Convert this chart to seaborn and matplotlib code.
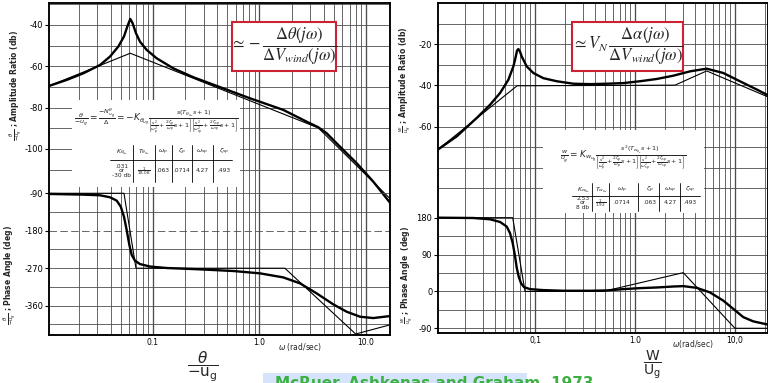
import numpy as np
import matplotlib
matplotlib.use("Agg")
import matplotlib.pyplot as plt
from matplotlib.patches import Rectangle
from matplotlib.lines import Line2D
from matplotlib.ticker import NullLocator
import seaborn as sns

sns.set_theme(style="white")
plt.rcParams['font.family'] = ['DejaVu Sans']
plt.rcParams['mathtext.fontset'] = 'dejavusans'

# ---------------- data ----------------
# Left panel: theta / -u_g
left_mag_w = [0.0106, 0.0155, 0.0222, 0.0318, 0.0395, 0.0472, 0.0534, 0.0574, 0.0612,
              0.0644, 0.0692, 0.0755, 0.0873, 0.108, 0.155, 0.239, 0.396, 0.814, 1.67,
              2.77, 3.56, 4.27, 5.7, 8.18, 11.7, 16.8]
left_mag_db = [-69.5, -66.6, -63.4, -59.4, -55.3, -50.5, -45.6, -40.8, -37.1,
               -39.2, -44.0, -48.1, -52.1, -56.1, -61.0, -65.3, -69.5, -75.5, -81.1,
               -86.8, -89.5, -92.4, -98.9, -106.9, -115.8, -126.0]
left_mag_asym_w = [0.0106, 0.0612, 3.56, 16.8]
left_mag_asym_db = [-69.5, -53.7, -89.8, -124.0]

left_ph_w = [0.0106, 0.0222, 0.0318, 0.0395, 0.0456, 0.0498, 0.0534, 0.0566, 0.060,
             0.0631, 0.0678, 0.0755, 0.0938, 0.135, 0.276, 0.568, 1.01, 1.67, 2.4,
             3.44, 4.93, 6.59, 8.79, 11.7, 16.8]
left_ph_deg = [-91.6, -93.2, -94.8, -99.6, -107.6, -122.0, -146.0, -178.0, -214.0,
               -238.0, -252.0, -260.0, -266.0, -269.5, -272.7, -276.7, -282.3, -292.0, -306.3,
               -330.4, -356.8, -374.5, -386.5, -389.7, -384.9]
left_ph_asym_w = [0.0106, 0.0534, 0.0692, 1.73, 8.0, 16.8]
left_ph_asym_deg = [-90, -90, -270, -270, -428, -406]

# Right panel: w / u_g
right_mag_w = [0.0107, 0.0165, 0.0207, 0.0261, 0.0355, 0.0447, 0.0541, 0.0607, 0.0631,
               0.0661, 0.0681, 0.0706, 0.0736, 0.0826, 0.0962, 0.121, 0.165, 0.242, 0.355,
               0.521, 0.764, 1.12, 1.65, 2.42, 3.55, 5.21, 7.64, 11.2, 16.5, 21.4]
right_mag_db = [-71.1, -64.7, -60.3, -55.8, -49.4, -43.7, -37.3, -30.8, -27.6,
                -23.1, -22.4, -23.5, -26.0, -30.8, -34.0, -36.5, -38.0, -39.2, -39.4,
                -39.2, -38.9, -38.0, -36.9, -35.3, -33.2, -31.9, -34.0, -38.0, -42.0, -44.8]
right_mag_asym_w = [0.0107, 0.0661, 2.51, 5.21, 21.4]
right_mag_asym_db = [-71.1, -40.2, -39.9, -33.0, -45.6]

right_ph_w = [0.0107, 0.0242, 0.0355, 0.0447, 0.0521, 0.0562, 0.0598, 0.0631, 0.0656,
              0.0687, 0.0724, 0.0776, 0.0891, 0.121, 0.192, 0.355, 0.521, 0.764, 1.12,
              1.65, 2.42, 3.04, 4.14, 5.62, 7.64, 9.62, 12.1, 15.2, 21.4]
right_ph_deg = [180, 179.2, 176, 169.5, 158.3, 142.2, 118, 86, 57.8,
                36, 20, 10.5, 5.6, 3.2, 1.6, 1.6, 2.4, 5.6, 8,
                9.6, 12, 12.9, 8.8, -2.4, -22.5, -42.6, -62.7, -73, -81]
right_ph_asym_w = [0.0107, 0.0598, 0.0794, 0.482, 3.04, 10.0, 21.4]
right_ph_asym_deg = [180, 180, 0, 0, 45.8, -90, -90]

# tick labels
left_mag_ticks = [-40, -60, -80, -100]
left_ph_ticks = [-90, -180, -270, -360]
right_mag_ticks = [-20, -40, -60]
right_ph_ticks = [180, 90, 0, -90]
freq_ticks = [0.1, 1.0, 10.0]
left_freq_labels = ["0.1", "1.0", "10.0"]
right_freq_labels = ["0,1", "1.0", "10,0"]

# formula tables
table_headers_left = [r"$K_{\theta_{u_g}}$", r"$T_{\theta_{u_g}}$", r"$\omega_p$", r"$\zeta_p$", r"$\omega_{sp}$", r"$\zeta_{sp}$"]
table_values_left = [".031\nor\n-30 db", r"$\frac{1}{18.08}$", ".063", ".0714", "4.27", ".493"]
table_headers_right = [r"$K_{w_{u_g}}$", r"$T_{w_{u_g}}$", r"$\omega_p$", r"$\zeta_p$", r"$\omega_{sp}$", r"$\zeta_{sp}$"]
table_values_right = ["2.53\nor\n8 db", r"$\frac{1}{1.92}$", ".0714", ".063", "4.27", ".493"]

# ---------------- figure ----------------
W, H = 768, 383
fig = plt.figure(figsize=(W / 100, H / 100), dpi=100)
fig.patch.set_facecolor("white")


def fx(px):
    return px / W


def fy(py):
    return 1 - py / H


GRID_C = "#4d4d4d"


def make_panel(rect, xlim, mag_lim, ph_lim, mag_grid, ph_grid, mag_ticks, ph_ticks,
               xlabels, dashed_phase=None):
    ax = fig.add_axes(rect)
    ax.set_xscale("log")
    ax.set_xlim(*xlim)
    ax.set_ylim(*mag_lim)
    ax2 = ax.twinx()
    ax2.set_ylim(*ph_lim)
    for a in (ax, ax2):
        a.grid(False)
        for s in a.spines.values():
            s.set_color("black")
            s.set_linewidth(1.1)
    # vertical log grid
    lo, hi = int(np.floor(np.log10(xlim[0]))), int(np.ceil(np.log10(xlim[1])))
    for d in range(lo, hi + 1):
        for m in range(1, 10):
            v = m * 10.0 ** d
            if xlim[0] < v < xlim[1]:
                ax.axvline(v, color=GRID_C, lw=0.95 if m == 1 else 0.6, zorder=0.5)
    for g in mag_grid:
        ax.axhline(g, color=GRID_C, lw=0.6, zorder=0.5)
    for g in ph_grid:
        ls = (0, (9, 4)) if (dashed_phase is not None and g == dashed_phase) else "-"
        ax2.axhline(g, color=GRID_C, lw=0.6, ls=ls, zorder=0.5)
    ax.set_yticks(mag_ticks)
    ax.set_yticklabels([str(t) for t in mag_ticks])
    ax2.set_yticks(ph_ticks)
    ax2.set_yticklabels([str(t) for t in ph_ticks])
    ax2.yaxis.tick_left()
    ax.yaxis.set_minor_locator(NullLocator())
    ax2.yaxis.set_minor_locator(NullLocator())
    ax.tick_params(axis="y", direction="out", length=3, width=0.8, labelsize=6, pad=1,
                   colors="black", left=True)
    ax2.tick_params(axis="y", direction="out", length=3, width=0.8, labelsize=6, pad=1,
                    colors="black", left=True, right=False, labelleft=True, labelright=False)
    ax.set_xticks(freq_ticks)
    ax.set_xticklabels(xlabels)
    ax.xaxis.set_minor_locator(NullLocator())
    ax.tick_params(axis="x", length=0, labelsize=5.5, pad=2.5, colors="black")
    ax.set_xlabel("")
    ax.set_ylabel("")
    ax2.set_ylabel("")
    return ax, ax2


axL, axL2 = make_panel([fx(49), fy(335), fx(390) - fx(49), fy(3) - fy(335)],
                       (0.01056, 16.8), (-190.0, -29.4), (-430.4, 367.1),
                       [-30, -40, -50, -60, -70, -80, -90, -100, -110],
                       [-90, -135, -180, -225, -270, -315, -360, -405],
                       left_mag_ticks, left_ph_ticks, left_freq_labels, dashed_phase=-180)

axR, axR2 = make_panel([fx(438), fy(333), fx(768) - fx(438), fy(3) - fy(333)],
                       (0.0107, 21.4), (-160.1, -0.05), (-101.5, 704.0),
                       [-10, -20, -30, -40, -50, -60, -70, -80, -90],
                       [180, 135, 90, 45, 0, -45, -90],
                       right_mag_ticks, right_ph_ticks, right_freq_labels)

# curves
for ax, x, y, lw in [
    (axL, left_mag_asym_w, left_mag_asym_db, 0.8),
    (axL, left_mag_w, left_mag_db, 1.7),
    (axL2, left_ph_asym_w, left_ph_asym_deg, 0.8),
    (axL2, left_ph_w, left_ph_deg, 1.7),
    (axR, right_mag_asym_w, right_mag_asym_db, 0.8),
    (axR, right_mag_w, right_mag_db, 1.7),
    (axR2, right_ph_asym_w, right_ph_asym_deg, 0.8),
    (axR2, right_ph_w, right_ph_deg, 1.7),
]:
    sns.lineplot(x=x, y=y, ax=ax, color="black", linewidth=lw, sort=False,
                 estimator=None, legend=False, zorder=3)
    ax.set_xlabel("")
    ax.set_ylabel("")

# y-axis labels
fig.text(fx(16), fy(85), r"$\frac{\theta}{-u_g}$ ; Amplitude Ratio (db)", rotation=90,
         ha="center", va="center", fontsize=5.5, fontweight="bold")
fig.text(fx(10), fy(275), r"$\frac{\theta}{-u_g}$ ; Phase Angle (deg)", rotation=90,
         ha="center", va="center", fontsize=5.5, fontweight="bold")
fig.text(fx(405), fy(80), r"$\frac{w}{u_g}$ ; Amplitude Ratio (db)", rotation=90,
         ha="center", va="center", fontsize=5.5, fontweight="bold")
fig.text(fx(407), fy(275), r"$\frac{w}{u_g}$ ; Phase Angle  (deg)", rotation=90,
         ha="center", va="center", fontsize=5.5, fontweight="bold")

# frequency axis labels
fig.text(fx(300), fy(347), r"$\omega$ (rad/sec)", ha="center", va="center", fontsize=5.5)
fig.text(fx(693), fy(344), r"$\omega$(rad/sec)", ha="center", va="center", fontsize=5.5)

# bottom fraction labels
fig.text(fx(203), fy(367), r"$\dfrac{\theta}{-\mathrm{u_g}}$", ha="center", va="center", fontsize=11)
fig.text(fx(652), fy(365), r"$\dfrac{\mathrm{W}}{\mathrm{U_g}}$", ha="center", va="center", fontsize=10)


# red boxes
def red_box(x0, y0, x1, y1, txt):
    fig.patches.append(Rectangle((fx(x0), fy(y1)), fx(x1) - fx(x0), fy(y0) - fy(y1),
                                 transform=fig.transFigure, facecolor="white",
                                 edgecolor="#cc2233", linewidth=1.5, zorder=5))
    fig.text(fx((x0 + x1) / 2), fy((y0 + y1) / 2), txt, ha="center", va="center",
             fontsize=12, math_fontfamily="stix", zorder=6)


red_box(232, 22, 336, 71,
        r"$\simeq -\dfrac{\Delta\theta\left(j\omega\right)}{\Delta V_{wind}\left(j\omega\right)}$")
red_box(572, 22, 683, 71,
        r"$\simeq V_N\,\dfrac{\Delta\alpha\left(j\omega\right)}{\Delta V_{wind}\left(j\omega\right)}$")


# formula tables
def white_box(x0, y0, x1, y1):
    fig.patches.append(Rectangle((fx(x0), fy(y1)), fx(x1) - fx(x0), fy(y0) - fy(y1),
                                 transform=fig.transFigure, facecolor="white",
                                 edgecolor="none", zorder=4))


def fline(x0, y0, x1, y1, lw=0.6):
    fig.lines.append(Line2D([fx(x0), fx(x1)], [fy(y0), fy(y1)], transform=fig.transFigure,
                            color="black", lw=lw, zorder=6))


white_box(72, 100, 240, 187)
fig.text(fx(156), fy(121),
         r"$\frac{\theta}{-u_g}=\frac{-N^{\theta}_{u_g}}{\Delta}=-K_{\theta_{u_g}}"
         r"\frac{s(T_{\theta_{u_g}}s+1)}{\left[\frac{s^2}{\omega_p^2}+\frac{2\zeta_p}{\omega_p}s+1\right]"
         r"\left[\frac{s^2}{\omega_{sp}^2}+\frac{2\zeta_{sp}}{\omega_{sp}}s+1\right]}$",
         ha="center", va="center", fontsize=6.5, zorder=6)
colsL = [122, 144, 163, 182, 202, 224]
sepsL = [133, 155, 172, 192, 213]
for cx, h, v in zip(colsL, table_headers_left, table_values_left):
    fig.text(fx(cx), fy(152), h, ha="center", va="center", fontsize=4.5, zorder=6)
    fig.text(fx(cx), fy(171), v, ha="center", va="center", fontsize=4.2, zorder=6,
             linespacing=0.9)
fline(110, 160, 232, 160)
for sx in sepsL:
    fline(sx, 145, sx, 182)

white_box(543, 130, 704, 213)
fig.text(fx(623), fy(158),
         r"$\frac{w}{u_g}=K_{w_{u_g}}"
         r"\frac{s^2(T_{w_{u_g}}s+1)}{\left[\frac{s^2}{\omega_p^2}+\frac{2\zeta_p}{\omega_p}s+1\right]"
         r"\left[\frac{s^2}{\omega_{sp}^2}+\frac{2\zeta_{sp}}{\omega_{sp}}s+1\right]}$",
         ha="center", va="center", fontsize=6.5, zorder=6)
colsR = [583, 601, 622, 650, 670, 690]
sepsR = [592, 609, 638, 659, 680]
for cx, h, v in zip(colsR, table_headers_right, table_values_right):
    fig.text(fx(cx), fy(190), h, ha="center", va="center", fontsize=4.5, zorder=6)
    fig.text(fx(cx), fy(203), v, ha="center", va="center", fontsize=4.2, zorder=6,
             linespacing=0.9)
fline(572, 196, 700, 196)
for sx in sepsR:
    fline(sx, 183, sx, 211)

# citation box (cut by figure edge, as in the reference)
fig.patches.append(Rectangle((fx(263), 0), fx(527) - fx(263), fy(373),
                             transform=fig.transFigure, facecolor="#d6e4fb",
                             edgecolor="none", zorder=5))
fig.text(fx(275), fy(376), "McRuer, Ashkenas and Graham, 1973", ha="left", va="top",
         fontsize=11, fontweight="bold", color="#3cb043", zorder=6)

fig.savefig("out.png", dpi=100, facecolor="white")
